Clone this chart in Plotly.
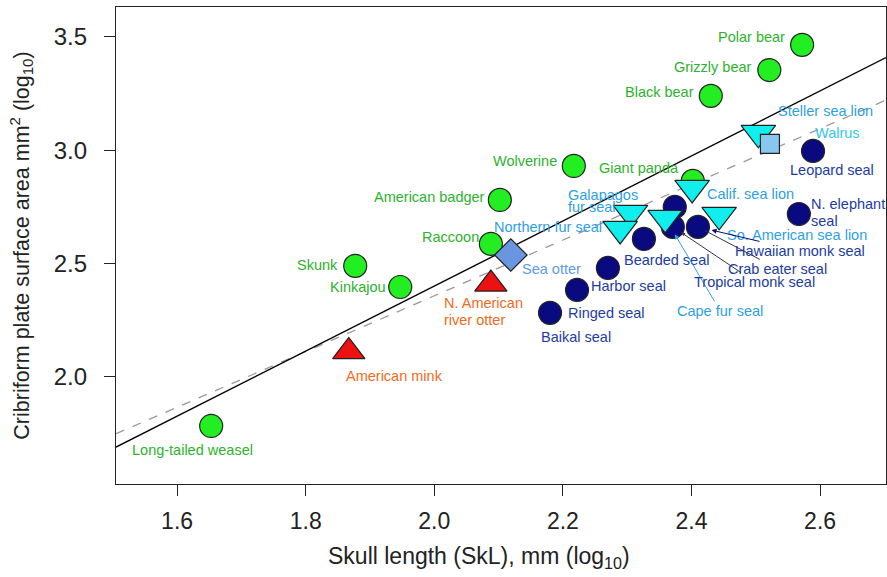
import plotly.graph_objects as go
import numpy as np

# ---- data (log10 values) ----
terr_names = ["Polar bear", "Grizzly bear", "Black bear", "Wolverine", "Giant panda",
              "American badger", "Raccoon", "Skunk", "Kinkajou", "Long-tailed weasel"]
terr_x = [2.572, 2.521, 2.430, 2.217, 2.402, 2.102, 2.088, 1.877, 1.947, 1.653]
terr_y = [3.465, 3.354, 3.240, 2.931, 2.865, 2.781, 2.587, 2.490, 2.397, 1.784]

must_names = ["American mink", "N. American<br>river otter"]
must_x = [1.867, 2.088]
must_y = [2.112, 2.410]

otter_names = ["Sea otter"]
otter_x = [2.119]
otter_y = [2.538]

otar_names = ["Steller sea lion", "Calif. sea lion", "Galapagos<br>fur seal",
              "Northern fur seal", "Cape fur seal", "So. American sea lion"]
otar_x = [2.504, 2.401, 2.305, 2.289, 2.359, 2.443]
otar_y = [3.077, 2.834, 2.724, 2.653, 2.702, 2.715]

walrus_names = ["Walrus"]
walrus_x = [2.522]
walrus_y = [3.028]

phoc_names = ["Leopard seal", "N. elephant<br>seal", "Hawaiian monk seal", "Tropical monk seal",
              "Crab eater seal", "Bearded seal", "Harbor seal", "Ringed seal", "Baikal seal"]
phoc_x = [2.589, 2.567, 2.374, 2.371, 2.410, 2.326, 2.270, 2.222, 2.180]
phoc_y = [2.997, 2.719, 2.750, 2.662, 2.662, 2.609, 2.481, 2.384, 2.283]

# regression lines: slope, intercept
fit_all = (1.435, -0.469)
fit_dash = (1.229, -0.100)

x_range = [1.505, 2.7025]
y_range = [1.528, 3.632]
x_ticks = [1.6, 1.8, 2.0, 2.2, 2.4, 2.6]
y_ticks = [2.0, 2.5, 3.0, 3.5]

# ---- styles ----
FONT = "Liberation Sans, Arial, Helvetica, sans-serif"
C_GREEN, L_GREEN = "#22EE22", "#2EB22E"
C_RED, L_ORANGE = "#EE1111", "#F26B1D"
C_CYAN, L_OTAR = "#11EEEE", "#2E9FE3"
C_NAVY, L_NAVY = "#0A0A80", "#1D3C9E"
C_OTTER, L_OTTER = "#6A96E0", "#5B9BE8"
C_WALRUS, L_WALRUS = "#88C8F0", "#33C6EE"
LAB = 14.5
AX = "#222222"

fig = go.Figure()

xl = np.array(x_range)
fig.add_trace(go.Scatter(x=xl, y=fit_dash[0] * xl + fit_dash[1], mode="lines",
                         line=dict(color="#999999", width=1.3, dash="dash"), hoverinfo="skip"))
fig.add_trace(go.Scatter(x=xl, y=fit_all[0] * xl + fit_all[1], mode="lines",
                         line=dict(color="black", width=1.4), hoverinfo="skip"))

outline = dict(color="#222222", width=1.2)
fig.add_trace(go.Scatter(x=terr_x, y=terr_y, mode="markers",
                         marker=dict(symbol="circle", size=23, color=C_GREEN, line=outline)))
fig.add_trace(go.Scatter(x=must_x, y=must_y, mode="markers",
                         marker=dict(symbol="triangle-up", size=28, color=C_RED, line=outline)))
fig.add_trace(go.Scatter(x=otter_x, y=otter_y, mode="markers",
                         marker=dict(symbol="diamond", size=25, color=C_OTTER, line=outline)))
fig.add_trace(go.Scatter(x=phoc_x, y=phoc_y, mode="markers",
                         marker=dict(symbol="circle", size=23, color=C_NAVY, line=outline)))
fig.add_trace(go.Scatter(x=otar_x, y=otar_y, mode="markers",
                         marker=dict(symbol="triangle-down", size=30, color=C_CYAN, line=outline)))
fig.add_trace(go.Scatter(x=walrus_x, y=walrus_y, mode="markers",
                         marker=dict(symbol="square", size=19, color=C_WALRUS, line=outline)))

# label offsets (pixels): (xanchor, xshift, yshift of first line, line spacing)
terr_lab = [("right", -15, 8, 0), ("right", -15, 3, 0), ("right", -15, 4, 0), ("right", -15, 5, 0),
            ("right", -12, 13, 0), ("right", -13, 3, 0), ("right", -10, 7, 0), ("right", -15, 1, 0),
            ("right", -12, 0, 0), ("center", -19, -24, 0)]
must_lab = [("left", -5, -24, 0), ("left", -49, -19, 17)]
otter_lab = [("left", 9, -14, 0)]
otar_lab = [("left", 18, 22, 0), ("left", 13, -6, 0), ("left", -64, 18, 12), ("right", -16, 2, 0),
            None, ("left", 6, -20, 0)]
walrus_lab = [("left", 43, 11, 0)]
phoc_lab = [("left", -25, -19, 0), ("left", 10, 10, 17), None, None, None,
            ("left", -22, -21, 0), ("left", -19, -18, 0), ("left", -11, -23, 0), ("left", -11, -24, 0)]


def add_labels(names, xs, ys, labs, color):
    for n, x, y, lab in zip(names, xs, ys, labs):
        if lab is None:
            continue
        xa, xs_, ys_, sp = lab
        for i, line in enumerate(n.split("<br>")):
            fig.add_annotation(x=x, y=y, text=line, showarrow=False, xanchor=xa, yanchor="middle",
                               xshift=xs_, yshift=ys_ - i * sp, align="left",
                               font=dict(family=FONT, size=LAB, color=color))


add_labels(terr_names, terr_x, terr_y, terr_lab, L_GREEN)
add_labels(must_names, must_x, must_y, must_lab, L_ORANGE)
add_labels(otter_names, otter_x, otter_y, otter_lab, L_OTTER)
add_labels(otar_names, otar_x, otar_y, otar_lab, L_OTAR)
add_labels(walrus_names, walrus_x, walrus_y, walrus_lab, L_WALRUS)
add_labels(phoc_names, phoc_x, phoc_y, phoc_lab, L_NAVY)

# arrowed labels
fig.add_annotation(x=otar_x[4], y=otar_y[4], text=otar_names[4], showarrow=True,
                   ax=55, ay=93, arrowhead=2, arrowsize=1, arrowwidth=1, arrowcolor=L_OTAR,
                   standoff=19, font=dict(family=FONT, size=LAB, color=L_OTAR))
fig.add_annotation(x=phoc_x[4], y=phoc_y[4], text=phoc_names[2], showarrow=True,
                   ax=102, ay=24, arrowhead=2, arrowsize=1, arrowwidth=1, arrowcolor=C_NAVY,
                   standoff=14, font=dict(family=FONT, size=LAB, color=L_NAVY))
fig.add_annotation(x=phoc_x[4], y=phoc_y[4], text=phoc_names[4], showarrow=True,
                   ax=80, ay=42, arrowhead=0, arrowwidth=1, arrowcolor="#333355",
                   standoff=8, font=dict(family=FONT, size=LAB, color=L_NAVY))
fig.add_annotation(x=phoc_x[3], y=phoc_y[3], text=phoc_names[3], showarrow=True,
                   ax=82, ay=55, arrowhead=2, arrowsize=0.8, arrowwidth=1, arrowcolor="#333355",
                   standoff=10, font=dict(family=FONT, size=LAB, color=L_NAVY))

# x-axis title (sits slightly left of the plot centre in the original)
fig.add_annotation(xref="paper", yref="paper", x=0.471, y=-0.155, xanchor="center",
                   yanchor="middle", showarrow=False,
                   text="Skull length (SkL), mm (log<sub>10</sub>)",
                   font=dict(family=FONT, size=23, color=AX))

fig.update_layout(
    width=887, height=577, showlegend=False,
    margin=dict(l=116, r=1, t=7, b=93, autoexpand=False),
    paper_bgcolor="white", plot_bgcolor="white",
    xaxis=dict(range=x_range, tickvals=x_ticks, ticktext=[f"{v:.1f}" for v in x_ticks],
               showgrid=False, zeroline=False, showline=True, linecolor=AX, linewidth=1.2,
               mirror=True, ticks="outside", ticklen=11, tickcolor=AX, automargin=False,
               ticklabelstandoff=5,
               tickfont=dict(family=FONT, size=23, color=AX)),
    yaxis=dict(range=y_range, tickvals=y_ticks, ticktext=[f"{v:.1f}" for v in y_ticks],
               showgrid=False, zeroline=False, showline=True, linecolor=AX, linewidth=1.2,
               mirror=True, ticks="outside", ticklen=11, tickcolor=AX, automargin=False,
               ticklabelstandoff=12,
               tickfont=dict(family=FONT, size=24, color=AX),
               title=dict(text="Cribriform plate surface area mm<sup>2</sup> (log<sub>10</sub>)",
                          standoff=18, font=dict(family=FONT, size=21.5, color=AX))),
)

# remove the default page margin so the 887x577 figure fills the window exactly
fig.write_html("out.html", config={"displayModeBar": False},
               post_script="document.body.style.margin='0';document.body.style.overflow='hidden';")
